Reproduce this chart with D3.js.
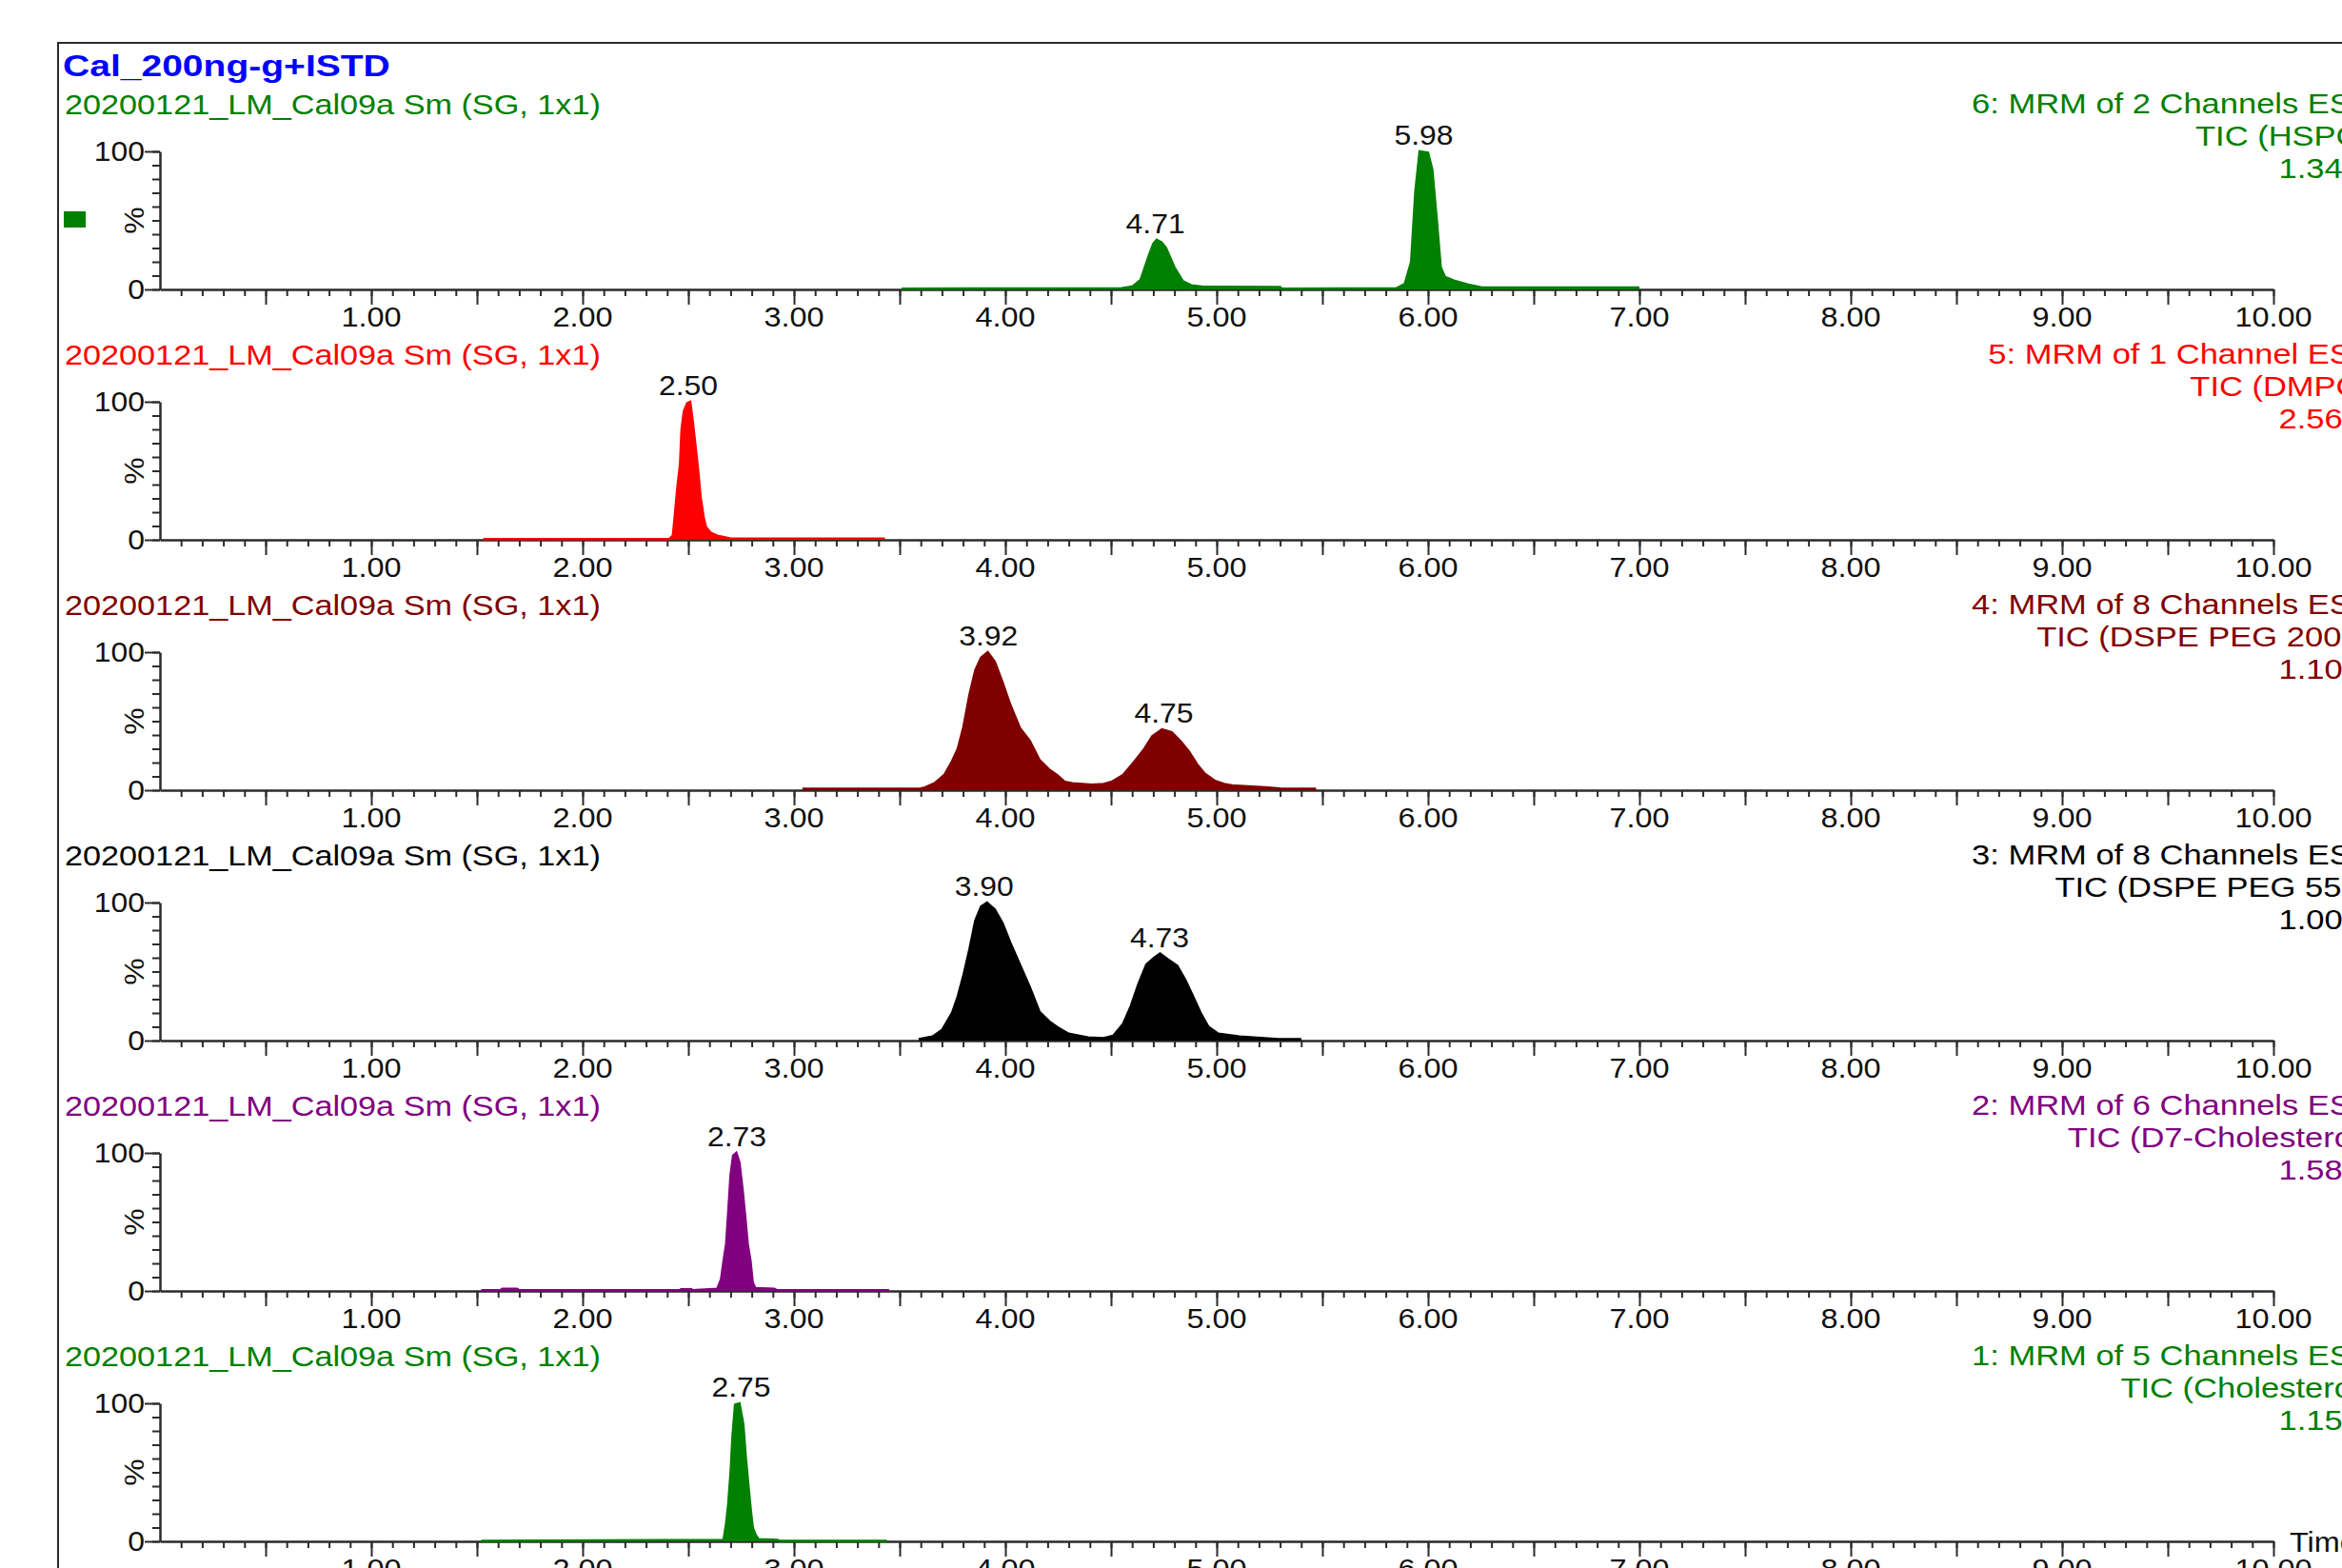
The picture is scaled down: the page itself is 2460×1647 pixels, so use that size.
<!DOCTYPE html>
<html>
<head>
<meta charset="utf-8">
<script src="https://cdn.jsdelivr.net/npm/d3@7"></script>
<style>
  body { margin: 0; background: #fff; }
  svg { display: block; overflow: hidden; }
</style>
</head>
<body>
<div id="chart"></div>
<script>
// Data: retention time (min), relative intensity (%)
var title = 'Cal_200ng-g+ISTD'
var sampleName = '20200121_LM_Cal09a Sm (SG, 1x1)'
var xTickLabels = [1, 2, 3, 4, 5, 6, 7, 8, 9, 10]

var channelNames = [
  '6: MRM of 2 Channels ES+',
  '5: MRM of 1 Channel ES+',
  '4: MRM of 8 Channels ES+',
  '3: MRM of 8 Channels ES+',
  '2: MRM of 6 Channels ES+',
  '1: MRM of 5 Channels ES+'
]
var ticNames = ['TIC (HSPC)', 'TIC (DMPC)', 'TIC (DSPE PEG 2000)', 'TIC (DSPE PEG 550)', 'TIC (D7-Cholesterol)', 'TIC (Cholesterol)']
var intensities = ['1.34e7', '2.56e7', '1.10e6', '1.00e6', '1.58e5', '1.15e6']
var colors = ['#008000', '#ff0000', '#800000', '#000000', '#800080', '#008000']

var hspc = [[3.51,0.6],[4.55,0.8],[4.60,2],[4.64,7],[4.68,25],[4.70,33],[4.716,36],[4.74,34],[4.76,30],[4.80,16],[4.84,6],[4.88,3],[4.93,2],[5.30,1.8],[5.31,0.6],[5.85,0.8],[5.89,4],[5.92,20],[5.94,71],[5.96,100],[6.00,99],[6.02,87],[6.04,53],[6.06,16],[6.08,9],[6.13,6],[6.19,3.5],[6.25,1.6],[7.00,1.4]]
var dmpc = [[1.53,0.6],[2.41,0.6],[2.427,3],[2.437,19],[2.449,39],[2.461,55],[2.468,80],[2.479,93],[2.495,99],[2.509,100],[2.521,86],[2.534,68],[2.546,51],[2.558,31],[2.573,16],[2.584,9],[2.607,5],[2.637,3],[2.68,1.6],[2.70,0.9],[3.43,0.8]]
var dspePeg2000 = [[3.04,1],[3.60,1.2],[3.619,2],[3.665,5],[3.711,11],[3.748,21],[3.775,30],[3.802,46],[3.83,69],[3.858,87],[3.885,96],[3.917,100],[3.95,93],[3.987,78],[4.023,62],[4.069,45],[4.115,36],[4.161,22],[4.207,15],[4.244,11],[4.281,6],[4.318,5],[4.41,4],[4.465,4.5],[4.502,6],[4.557,11],[4.612,21],[4.658,30],[4.695,39],[4.741,44],[4.787,42],[4.832,35],[4.869,28],[4.906,19],[4.943,12],[4.989,7],[5.035,4.5],[5.072,3.4],[5.228,2],[5.30,1.2],[5.47,1]]
var dspePeg550 = [[3.59,1],[3.656,3],[3.702,8],[3.748,20],[3.775,32],[3.803,48],[3.83,66],[3.858,87],[3.885,97],[3.913,100],[3.95,95],[3.987,85],[4.023,71],[4.069,55],[4.115,39],[4.161,21],[4.207,14],[4.253,9],[4.299,5],[4.391,2.3],[4.465,1.8],[4.51,3.4],[4.557,12],[4.594,25],[4.63,41],[4.667,55],[4.704,60],[4.732,63],[4.768,59],[4.814,54],[4.851,44],[4.888,32],[4.924,20],[4.961,10],[5.007,5],[5.108,3],[5.292,1],[5.40,1]]
var d7Cholesterol = [[1.52,0.5],[1.61,0.5],[1.62,1.5],[1.69,1.5],[1.70,0.5],[2.46,0.5],[2.465,1.2],[2.515,1.2],[2.52,0.5],[2.637,1.6],[2.655,8.5],[2.667,22],[2.679,34],[2.689,57],[2.70,84],[2.712,98],[2.727,100],[2.742,93],[2.757,73],[2.769,54],[2.781,34],[2.794,22],[2.805,6],[2.817,2],[2.907,1.6],[2.92,0.5],[3.45,0.5]]
var cholesterol = [[1.52,0.4],[2.667,1],[2.679,13],[2.689,27],[2.70,50],[2.709,76],[2.721,99],[2.742,100],[2.76,85],[2.772,61],[2.784,41],[2.796,22],[2.805,10],[2.817,5],[2.832,1.6],[2.922,1],[2.93,0.4],[3.44,0.4]]
var traces = [hspc, dmpc, dspePeg2000, dspePeg550, d7Cholesterol, cholesterol]

// peak labels: retention time, apex height (%)
var peaks = [
  [[4.71, 36], [5.98, 100]],
  [[2.50, 100]],
  [[3.92, 100], [4.75, 44]],
  [[3.90, 100], [4.73, 63]],
  [[2.73, 100]],
  [[2.75, 100]]
]

// Settings
var settings = {}
settings.width = 2460
settings.height = 1647
settings.font = '"Liberation Sans", Arial, sans-serif'
settings.font_size = 29
settings.first_axis_y = 304
settings.panel_step = 263
settings.panel_height = 145
settings.axis_color = '#2b2b2b'
settings.text_color = '#111'

var svg = d3.select('#chart').append('svg')
  .attr('width', settings.width)
  .attr('height', settings.height)
  .attr('font-family', settings.font)

var x = d3.scaleLinear().domain([0, 10]).range([168, 2388])

// Frame
svg.append('rect')
  .attr('x', 61).attr('y', 45)
  .attr('width', 2600).attr('height', 1800)
  .attr('fill', 'none')
  .attr('stroke', settings.axis_color)
  .attr('stroke-width', 2)

txt(svg, 66, 80, title, {size: 32, weight: 'bold', sx: 1.22, color: '#0000ff'})

var minorX = d3.range(1, 101).map(function(d){ return d / 10 })
var majorX = d3.range(1, 21).map(function(d){ return d / 2 })

traces.forEach(function(data, i){
  var y0 = settings.first_axis_y + i * settings.panel_step
  var y = d3.scaleLinear().domain([0, 100]).range([y0, y0 - settings.panel_height])
  var g = svg.append('g')
  var color = colors[i]

  // left text: sample name
  txt(g, 68, y(100) - 39, sampleName, {sx: 1.18, color: color})

  // right text block (runs past the frame edge, as in the original)
  txt(g, 2490, y0 - 185, channelNames[i], {sx: 1.19, color: color, anchor: 'end'})
  txt(g, 2490, y0 - 151, ticNames[i], {sx: 1.19, color: color, anchor: 'end'})
  txt(g, 2499, y0 - 117, intensities[i], {sx: 1.19, color: color, anchor: 'end'})

  // x axis
  var xa = g.append('g').attr('transform', 'translate(0,' + y0 + ')')
  xa.call(d3.axisBottom(x).tickValues(minorX).tickSize(7).tickSizeOuter(0).tickFormat(''))
  xa.append('g').call(d3.axisBottom(x).tickValues(majorX).tickSize(16).tickFormat(''))
    .select('.domain').remove()

  // y axis
  var ya = g.append('g').attr('transform', 'translate(' + x(0) + ',0)')
  ya.call(d3.axisLeft(y).tickValues(d3.range(0, 101, 10)).tickSize(8).tickSizeOuter(0).tickFormat(''))
  ya.append('g').call(d3.axisLeft(y).tickValues([0, 100]).tickSize(16).tickFormat(''))
    .select('.domain').remove()

  g.selectAll('.domain').attr('stroke', settings.axis_color).attr('stroke-width', 2.5)
  g.selectAll('.tick line').attr('stroke', settings.axis_color).attr('stroke-width', 2)

  txt(g, 152, y(100) + 10, '100', {sx: 1.1, anchor: 'end'})
  txt(g, 152, y(0) + 10, '0', {sx: 1.1, anchor: 'end'})
  g.append('text')
    .attr('transform', 'translate(151,' + y(50) + ') rotate(-90) scale(1.1,1)')
    .attr('text-anchor', 'middle')
    .attr('font-size', settings.font_size)
    .attr('fill', settings.text_color)
    .text('%')

  xTickLabels.forEach(function(v){
    txt(g, x(v), y0 + 39, v.toFixed(2), {sx: 1.12, anchor: 'middle'})
  })

  // trace
  var area = d3.area()
    .x(function(d){ return x(d[0]) })
    .y0(y0)
    .y1(function(d){ return y(d[1]) })
  var line = d3.line()
    .x(function(d){ return x(d[0]) })
    .y(function(d){ return y(d[1]) })
  g.append('path').attr('d', area(data)).attr('fill', color)
  g.append('path').attr('d', line(data))
    .attr('fill', 'none').attr('stroke', color).attr('stroke-width', 2.5)

  // peak labels
  peaks[i].forEach(function(p){
    txt(g, x(p[0]), y(p[1]) - 7, p[0].toFixed(2), {sx: 1.1, anchor: 'middle'})
  })

  if (i === 0) {
    g.append('rect').attr('x', 67).attr('y', 222).attr('width', 23).attr('height', 17).attr('fill', '#008000')
  }
  if (i === traces.length - 1) {
    txt(g, 2405, y0 + 11, 'Time', {sx: 1.12})
  }
})

function txt(sel, px, py, s, o) {
  return sel.append('text')
    .attr('transform', 'translate(' + px + ',' + py + ') scale(' + (o.sx || 1) + ',1)')
    .attr('text-anchor', o.anchor || 'start')
    .attr('font-size', o.size || settings.font_size)
    .attr('font-weight', o.weight || 'normal')
    .attr('fill', o.color || settings.text_color)
    .text(s)
}
</script>
</body>
</html>
